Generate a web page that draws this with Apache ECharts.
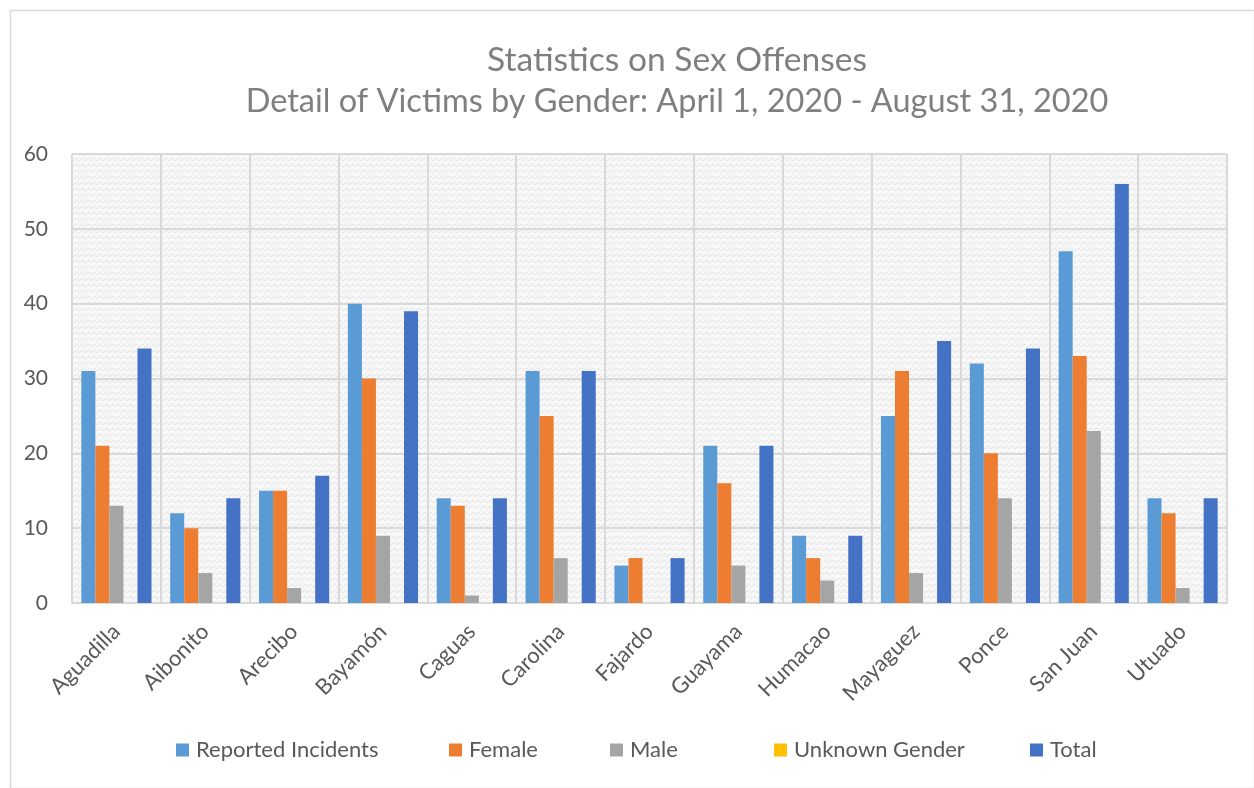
<!DOCTYPE html>
<html><head><meta charset="utf-8">
<script src="https://cdn.jsdelivr.net/npm/echarts@6/dist/echarts.min.js"></script>
<style>html,body{margin:0;padding:0;background:#fff}#c{width:1254px;height:788px}</style>
</head><body><div id="c"></div>
<script>
var categories = ['Aguadilla','Aibonito','Arecibo','Bayamón','Caguas','Carolina','Fajardo','Guayama','Humacao','Mayaguez','Ponce','San Juan','Utuado'];
var reportedIncidents = [31,12,15,40,14,31,5,21,9,25,32,47,14];
var female = [21,10,15,30,13,25,6,16,6,31,20,33,12];
var male = [13,4,2,9,1,6,0,5,3,4,14,23,2];
var unknownGender = [0,0,0,0,0,0,0,0,0,0,0,0,0];
var total = [34,14,17,39,14,31,6,21,9,35,34,56,14];
var seriesNames = ['Reported Incidents','Female','Male','Unknown Gender','Total'];
var yTicks = [0,10,20,30,40,50,60];
var titleLine1 = 'Statistics on Sex Offenses';
var titleLine2 = 'Detail of Victims by Gender: April 1, 2020 - August 31, 2020';

var colors = ['#5b9bd5','#ed7d31','#a5a5a5','#ffc000','#4472c4'];
var FONT = 'Lato, "Open Sans", sans-serif';

// subtle weave pattern for plot background
var pc = document.createElement('canvas');
pc.width = 6; pc.height = 6;
var px = pc.getContext('2d');
px.fillStyle = '#f6f6f6'; px.fillRect(0,0,6,6);
px.fillStyle = '#e6e6e6';
px.fillRect(0,4,2,1); px.fillRect(2,3,2,1); px.fillRect(4,2,2,1);
px.fillStyle = '#fcfcfc';
px.fillRect(1,0,2,1); px.fillRect(3,5,2,1);

var chart = echarts.init(document.getElementById('c'), null, {renderer:'canvas'});
var dataArr = [reportedIncidents, female, male, unknownGender, total];
var legendLefts = [176, 449, 610, 774, 1030];
var legends = seriesNames.map(function(n,i){
  return {data:[n], left:legendLefts[i], top:739, padding:0, itemWidth:13, itemHeight:13, icon:'rect',
    textStyle:{fontFamily:FONT, fontSize:22, color:'#595959', padding:[0,0,0,2]}, itemGap:6};
});
chart.setOption({
  animation:false,
  color: colors,
  title:{text:'{a|' + titleLine1 + '}\n{b|' + titleLine2 + '}',
    left:672, textAlign:'center', top:34,
    textStyle:{fontFamily:FONT, fontWeight:'normal', fontSize:32.5, color:'#7f7f7f', lineHeight:42,
      rich:{a:{fontFamily:FONT, fontSize:33.6, color:'#7f7f7f', lineHeight:42},
            b:{fontFamily:FONT, fontSize:32.5, color:'#7f7f7f', lineHeight:42}}}},
  legend: legends,
  grid:{left:72, right:27, top:154, bottom:185, show:true, borderWidth:0,
    backgroundColor:{image:pc, repeat:'repeat'}},
  xAxis:{type:'category', data:categories,
    axisLine:{lineStyle:{color:'#d9d9d9', width:2}},
    axisTick:{show:false},
    splitLine:{show:true, lineStyle:{color:'#d9d9d9', width:2}},
    axisLabel:{rotate:45, interval:0, margin:25, fontFamily:FONT, fontSize:22, color:'#595959'}},
  yAxis:{type:'value', min:0, max:60, interval:10,
    axisLine:{show:false}, axisTick:{show:false},
    splitLine:{lineStyle:{color:'#d9d9d9', width:2}},
    axisLabel:{margin:24, fontFamily:FONT, fontSize:21, color:'#595959',
      formatter:function(v){return yTicks.indexOf(v)>=0?String(v):'';}}},
  graphic:[{type:'rect', left:8, top:8, shape:{width:1244, height:778},
    style:{fill:'none', stroke:'#d9d9d9', lineWidth:1.5}, silent:true, z:-1},
    {type:'line', shape:{x1:1227, y1:154, x2:1227, y2:603}, style:{stroke:'#d9d9d9', lineWidth:2}, z:10},
    {type:'line', shape:{x1:72, y1:154, x2:72, y2:603}, style:{stroke:'#d9d9d9', lineWidth:2}, z:10}],
  series: seriesNames.map(function(n,i){
    return {name:n, type:'bar', data:dataArr[i], barGap:'0%', barCategoryGap:'21%',
      itemStyle:{color:colors[i]}};
  })
});
</script></body></html>
